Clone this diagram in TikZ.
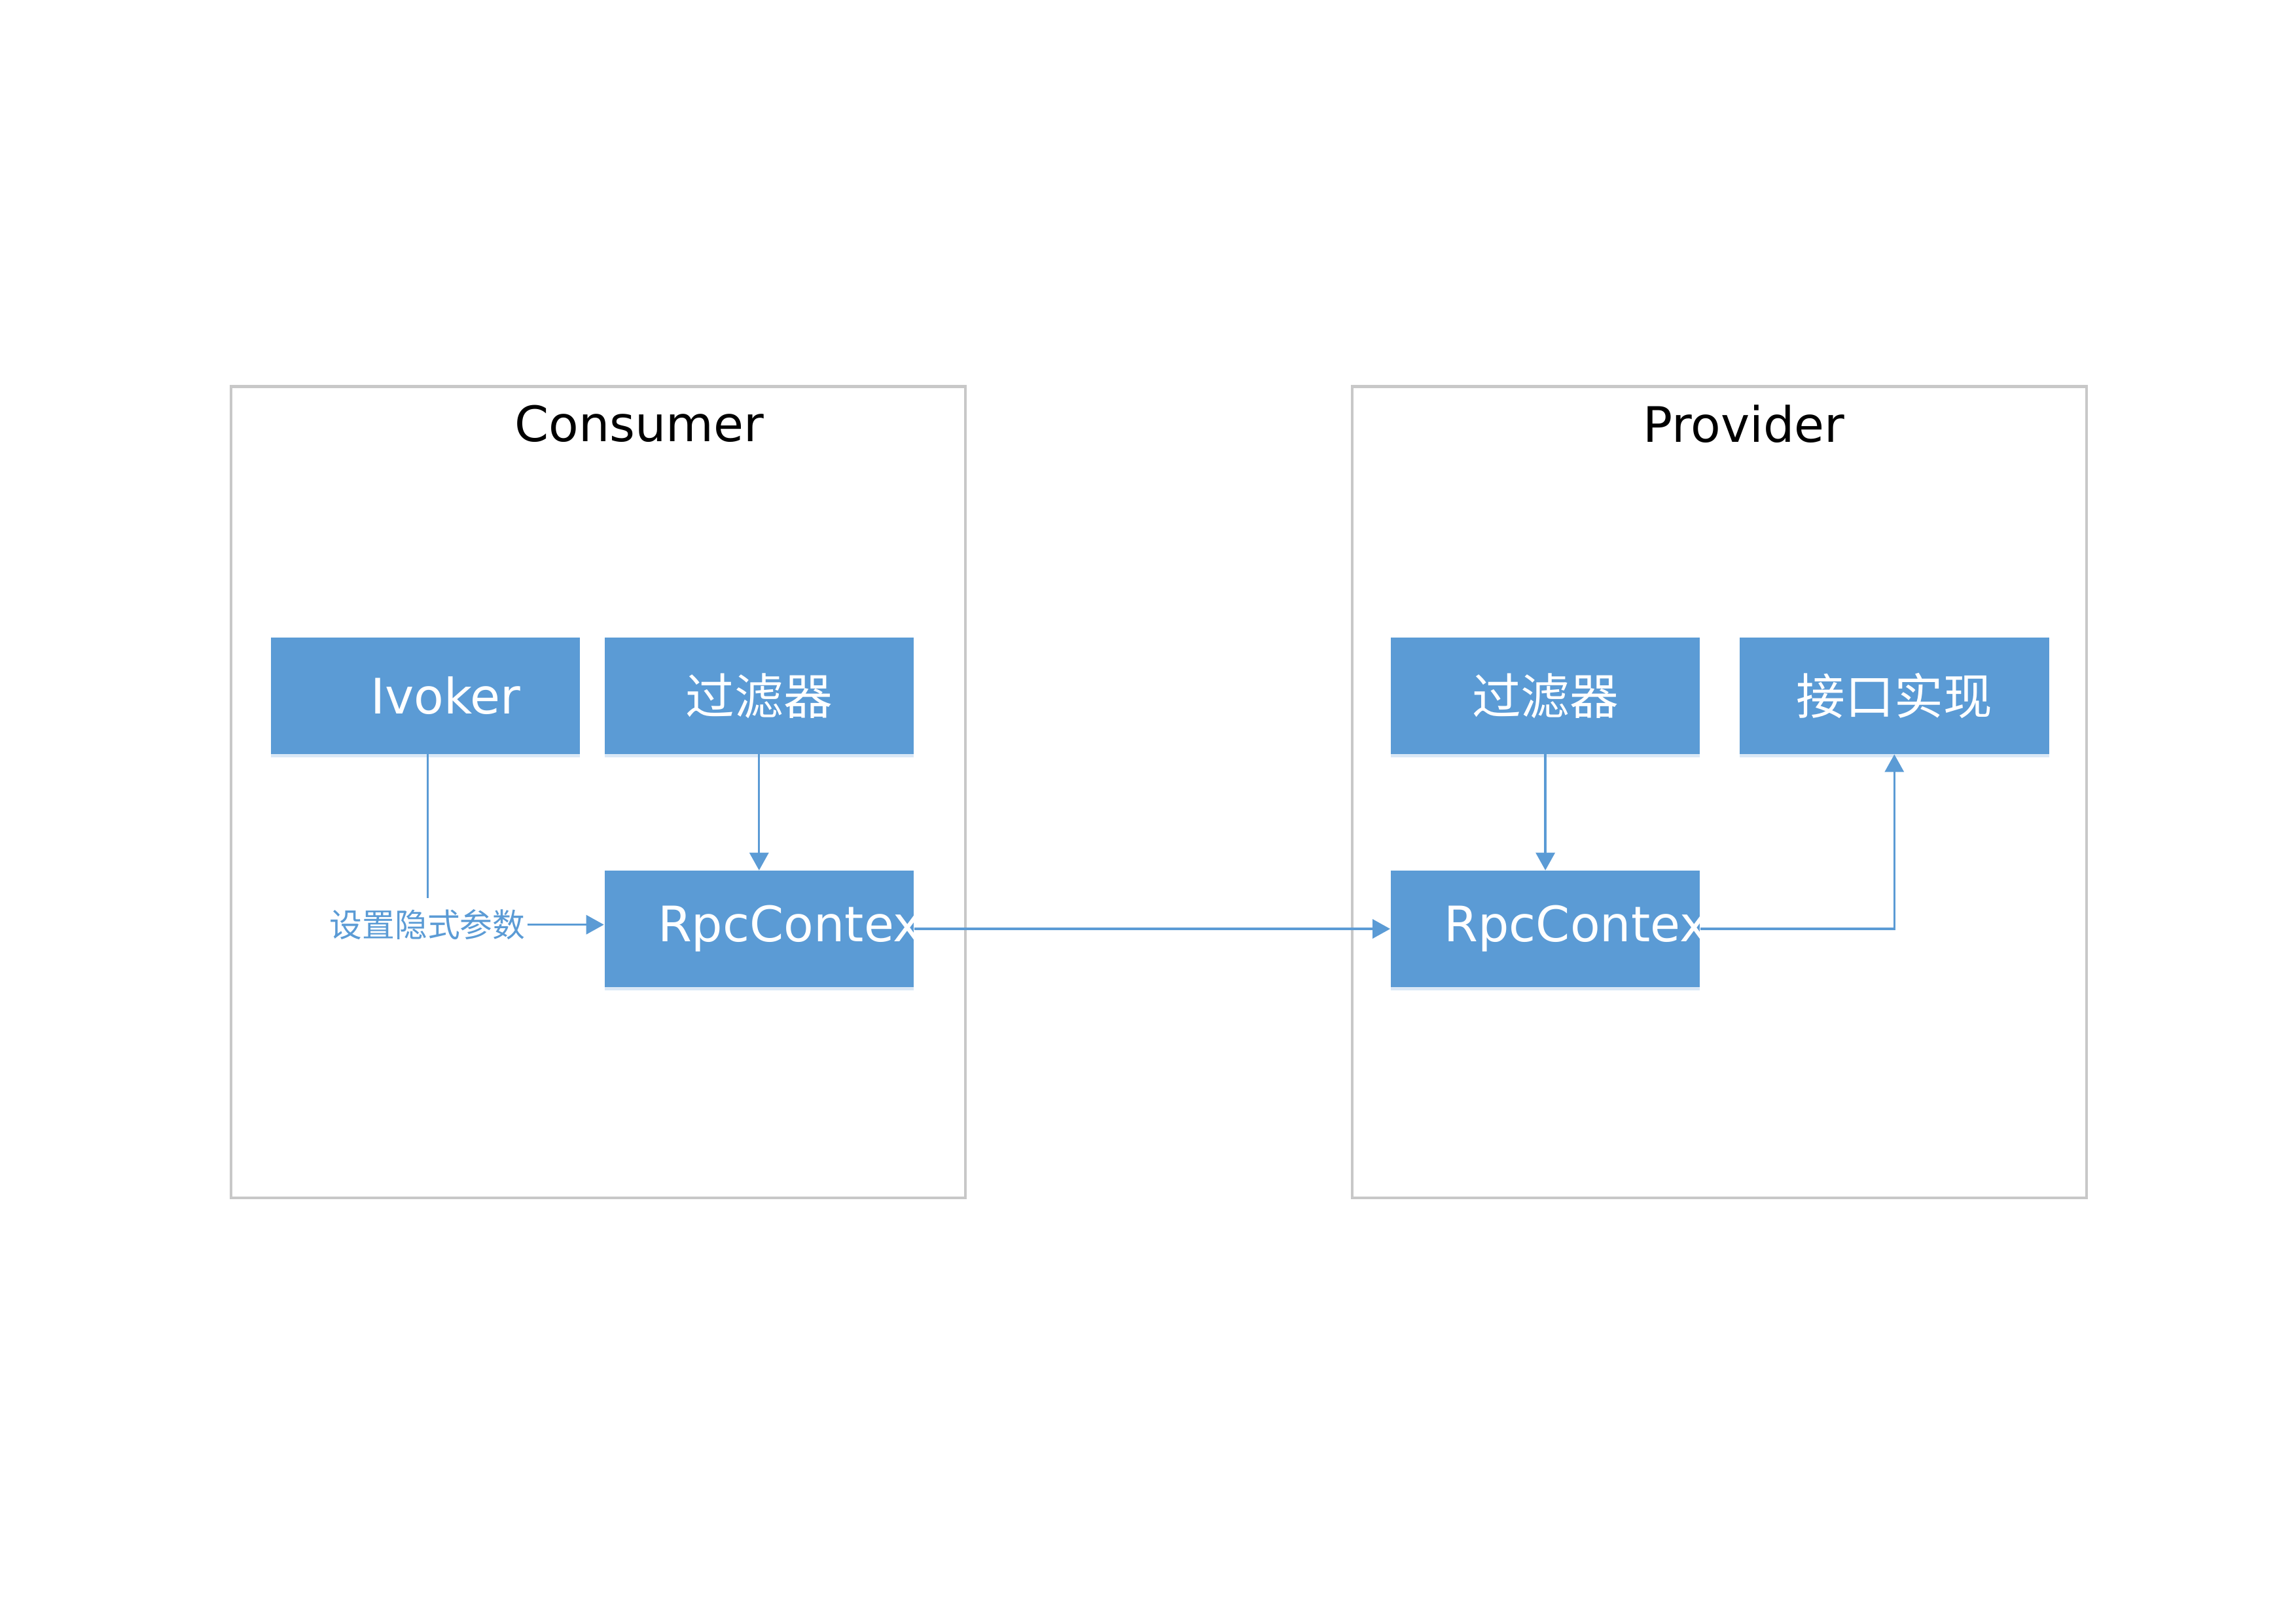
\documentclass[tikz,border=0pt]{standalone}
\usepackage{fontspec}
\setmainfont{DejaVu Sans}
\setsansfont{DejaVu Sans}
\newfontfamily\cjk{Noto Sans CJK SC}
\usepackage{tikz}
\usetikzlibrary{positioning,arrows.meta,calc,shadows}
\definecolor{rcBlue}{RGB}{91,155,213}
\definecolor{rcGray}{RGB}{200,200,200}
\definecolor{rcPale}{RGB}{218,232,246}
\tikzset{
    base/.style={font=\sffamily, align=center},
    frame/.style={draw=rcGray, line width=1pt},
    title/.style={base, font=\fontsize{18}{22}\selectfont\sffamily, text=black},
    unit/.style={base, rectangle, fill=rcBlue, text=white, inner sep=0pt,
                 minimum width=4cm, minimum height=1.5cm, text width=4cm,
                 font=\fontsize{18}{22}\selectfont\sffamily,
                 drop shadow={shadow xshift=0pt, shadow yshift=-1.2pt, fill=rcPale, opacity=1}},
    cjkunit/.style={unit, font=\fontsize{18}{22}\selectfont\cjk},
    ctx/.style={unit, align=left},
    flow/.style={-{Triangle[length=6.5pt,width=7pt]}, line width=0.8pt, color=rcBlue},
    wire/.style={line width=0.8pt, color=rcBlue},
    label/.style={font=\fontsize{12}{14}\selectfont\cjk, text=rcBlue, inner xsep=0.5pt, inner ysep=4pt}
}
\begin{document}
\begin{tikzpicture}
  \useasboundingbox (0,0) rectangle (29.7,21);
  % Frames
  \draw[frame] (2.99,5.51) rectangle (12.49,16.0);
  \draw[frame] (17.49,5.51) rectangle (26.99,16.0);
  \node[title] (consumer) at (8.27,15.52) {Consumer};
  \node[title] (provider) at (22.56,15.52) {Provider};

  % Consumer side
  \node[unit] (ivoker) at (5.505,12.0) {\mbox{\hspace{0.52cm}Ivoker}};
  \node[cjkunit, right=0.3cm of ivoker] (cfilter) {过滤器};
  \node[ctx, below=1.5cm of cfilter] (crpc) {\mbox{\hspace{0.69cm}RpcContex}};
  \node[label] (implicit) at (5.53,9.04) {设置隐式参数};

  % Provider side
  \node[cjkunit] (pfilter) at (19.99,12.0) {过滤器};
  \node[cjkunit, right=0.5cm of pfilter] (impl) {接口实现};
  \node[ctx, below=1.5cm of pfilter] (prpc) {\mbox{\hspace{0.69cm}RpcContex}};

  % Arrows
  \draw[wire] (ivoker.south -| implicit.north) -- (implicit.north);
  \draw[flow] (implicit.east) -- (implicit.east -| crpc.west);
  \draw[flow] (cfilter) -- (crpc);
  \draw[flow] (crpc) -- (prpc);
  \draw[flow] (pfilter) -- (prpc);
  \draw[flow] (prpc.east) -| (impl.south);
\end{tikzpicture}
\end{document}
